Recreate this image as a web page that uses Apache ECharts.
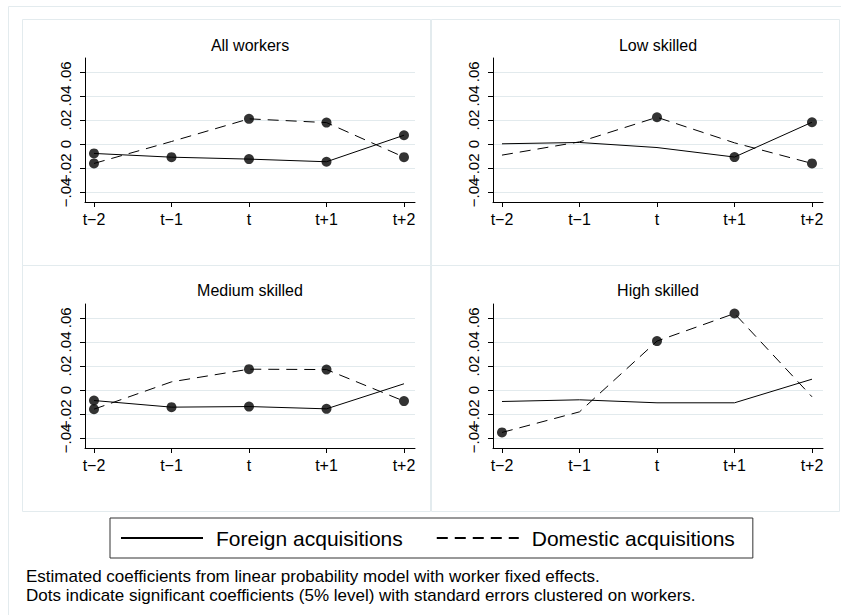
<!DOCTYPE html>
<html>
<head>
<meta charset="utf-8">
<script src="https://cdn.jsdelivr.net/npm/echarts@6/dist/echarts.min.js"></script>
<style>
  html, body { margin: 0; padding: 0; background: #fff; }
  #chart { width: 841px; height: 615px; }
</style>
</head>
<body>
<div id="chart"></div>
<script>
// ---- Data ----
var categories = ['t\u22122', 't\u22121', 't', 't+1', 't+2'];
var yTicks = [-0.04, -0.02, 0, 0.02, 0.04, 0.06];
var yTickLabels = ['\u2212.04', '\u2212.02', '0', '.02', '.04', '.06'];
var panelTitles = ['All workers', 'Low skilled', 'Medium skilled', 'High skilled'];
var seriesNames = ['Foreign acquisitions', 'Domestic acquisitions'];

var allForeign      = [-0.0077, -0.0108, -0.0124, -0.0146, 0.0074];
var allForeignSig   = [1, 1, 1, 1, 1];
var allDomestic     = [-0.0160, 0.0022, 0.0210, 0.0179, -0.0108];
var allDomesticSig  = [1, 0, 1, 1, 1];

var lowForeign      = [0.0003, 0.0014, -0.0028, -0.0107, 0.0182];
var lowForeignSig   = [0, 0, 0, 1, 1];
var lowDomestic     = [-0.0091, 0.0019, 0.0223, 0.0011, -0.0160];
var lowDomesticSig  = [0, 0, 1, 0, 1];

var medForeign      = [-0.0086, -0.0141, -0.0136, -0.0155, 0.0053];
var medForeignSig   = [1, 1, 1, 1, 0];
var medDomestic     = [-0.0158, 0.0069, 0.0174, 0.0171, -0.0091];
var medDomesticSig  = [1, 0, 1, 1, 1];

var highForeign     = [-0.0094, -0.0080, -0.0105, -0.0105, 0.0091];
var highForeignSig  = [0, 0, 0, 0, 0];
var highDomestic    = [-0.0351, -0.0180, 0.0407, 0.0636, -0.0055];
var highDomesticSig = [1, 0, 1, 1, 0];

var footnoteLines = [
  'Estimated coefficients from linear probability model with worker fixed effects.',
  'Dots indicate significant coefficients (5% level) with standard errors clustered on workers.'
];

var panels = [
  { foreign: allForeign,  foreignSig: allForeignSig,  domestic: allDomestic,  domesticSig: allDomesticSig },
  { foreign: lowForeign,  foreignSig: lowForeignSig,  domestic: lowDomestic,  domesticSig: lowDomesticSig },
  { foreign: medForeign,  foreignSig: medForeignSig,  domestic: medDomestic,  domesticSig: medDomesticSig },
  { foreign: highForeign, foreignSig: highForeignSig, domestic: highDomestic, domesticSig: highDomesticSig }
];

// ---- Layout ----
var FONT = '"Liberation Sans", Arial, Helvetica, sans-serif';
var gridPos = [
  { left: 85,  top: 58 },
  { left: 493, top: 58 },
  { left: 85,  top: 304 },
  { left: 493, top: 304 }
];
var GW = 330, GH = 144;
var YMIN = -0.048, YMAX = 0.0715;
var boxPos = [
  { x: 22.5,  y: 19.5 },
  { x: 431.5, y: 19.5 },
  { x: 22.5,  y: 265.5 },
  { x: 431.5, y: 265.5 }
];
var titleY = [37, 37, 282, 282];
var xIdx = categories.map(function (c, i) { return i; });

function yLabel(v) {
  for (var i = 0; i < yTicks.length; i++) { if (Math.abs(yTicks[i] - v) < 1e-9) return yTickLabels[i]; }
  return '';
}

var grids = [], xAxes = [], yAxes = [], series = [], titles = [], graphics = [];

graphics.push({ type: 'rect', shape: { x: 8.5, y: 6.5, width: 845, height: 630 },
  style: { fill: 'none', stroke: '#e3ebee', lineWidth: 1 }, silent: true, z: -10 });

panels.forEach(function (p, k) {
  grids.push({ left: gridPos[k].left, top: gridPos[k].top, width: GW, height: GH, containLabel: false });
  graphics.push({ type: 'rect', shape: { x: boxPos[k].x, y: boxPos[k].y, width: 408, height: 246 },
    style: { fill: 'none', stroke: '#e3ebee', lineWidth: 1 }, silent: true, z: -10 });
  xAxes.push({
    gridIndex: k, type: 'value', min: -0.116, max: 4.142,
    axisLine: { show: true, onZero: false, lineStyle: { color: '#000', width: 1 } },
    axisTick: { show: true, customValues: xIdx, length: 5, lineStyle: { color: '#000' } },
    axisLabel: { customValues: xIdx, margin: 9, fontSize: 16, color: '#000', fontFamily: FONT,
      showMinLabel: true, showMaxLabel: true,
      formatter: function (v) { return categories[Math.round(v)]; } },
    splitLine: { show: false }
  });
  // main y axis: line, ticks, gridlines, labels from -.02 upward
  yAxes.push({
    gridIndex: k, type: 'value', min: YMIN, max: YMAX, position: 'left', offset: 0,
    axisLine: { show: true, onZero: false, lineStyle: { color: '#000', width: 1 } },
    axisTick: { show: true, customValues: yTicks, length: 5, lineStyle: { color: '#000' } },
    axisLabel: { customValues: yTicks.slice(1), rotate: 90, margin: 12, fontSize: 15, color: '#000', fontFamily: FONT,
      showMinLabel: true, showMaxLabel: true, formatter: yLabel },
    splitLine: { show: true, lineStyle: { color: '#e2eaed', width: 1 } }
  });
  // companion y axis carrying only the lowest tick label (avoids automatic hiding of overlapping labels)
  yAxes.push({
    gridIndex: k, type: 'value', min: YMIN, max: YMAX, position: 'left', offset: 0,
    axisLine: { show: false, onZero: false },
    axisTick: { show: false },
    axisLabel: { customValues: yTicks.slice(0, 1), rotate: 90, margin: 12, fontSize: 15, color: '#000', fontFamily: FONT,
      showMinLabel: true, showMaxLabel: true, formatter: yLabel },
    splitLine: { show: false }
  });
  titles.push({
    text: panelTitles[k], left: gridPos[k].left + GW / 2, top: titleY[k], textAlign: 'center', padding: 0,
    textStyle: { fontSize: 16, fontWeight: 'normal', color: '#000', fontFamily: FONT }
  });
  var lines = [
    { name: seriesNames[0], vals: p.foreign, sig: p.foreignSig, type: 'solid' },
    { name: seriesNames[1], vals: p.domestic, sig: p.domesticSig, type: [11, 7] }
  ];
  lines.forEach(function (L) {
    series.push({
      name: L.name, type: 'line', xAxisIndex: k, yAxisIndex: 2 * k,
      data: L.vals.map(function (v, i) { return [i, v]; }),
      symbol: 'none', lineStyle: { color: '#000', width: 1, type: L.type },
      itemStyle: { color: '#000' }, animation: false, z: 3
    });
    series.push({
      name: L.name + ' (significant)', type: 'scatter', xAxisIndex: k, yAxisIndex: 2 * k,
      data: L.vals.map(function (v, i) { return [i, v]; }).filter(function (d, i) { return L.sig[i]; }),
      symbol: 'circle', symbolSize: 10, itemStyle: { color: '#000' }, animation: false, z: 4
    });
  });
});

footnoteLines.forEach(function (t, i) {
  titles.push({
    text: t, left: 26, top: 567 + i * 19, padding: 0,
    textStyle: { fontSize: 17, fontWeight: 'normal', color: '#000', fontFamily: FONT, lineHeight: 19 }
  });
});

var chart = echarts.init(document.getElementById('chart'), null, { renderer: 'svg', width: 841, height: 615 });
chart.setOption({
  backgroundColor: '#fff',
  animation: false,
  title: titles,
  grid: grids,
  xAxis: xAxes,
  yAxis: yAxes,
  legend: {
    data: seriesNames,
    left: 110, top: 518,
    orient: 'horizontal',
    itemWidth: 82, itemHeight: 20, itemGap: 33,
    padding: [8, 18, 8, 10],
    borderColor: '#333', borderWidth: 1,
    itemStyle: { opacity: 0 },
    textStyle: { fontSize: 21, color: '#000', fontFamily: FONT, padding: [0, 0, 0, 8], lineHeight: 24 },
    selectedMode: false
  },
  tooltip: { show: false },
  graphic: graphics,
  series: series
});
</script>
</body>
</html>
